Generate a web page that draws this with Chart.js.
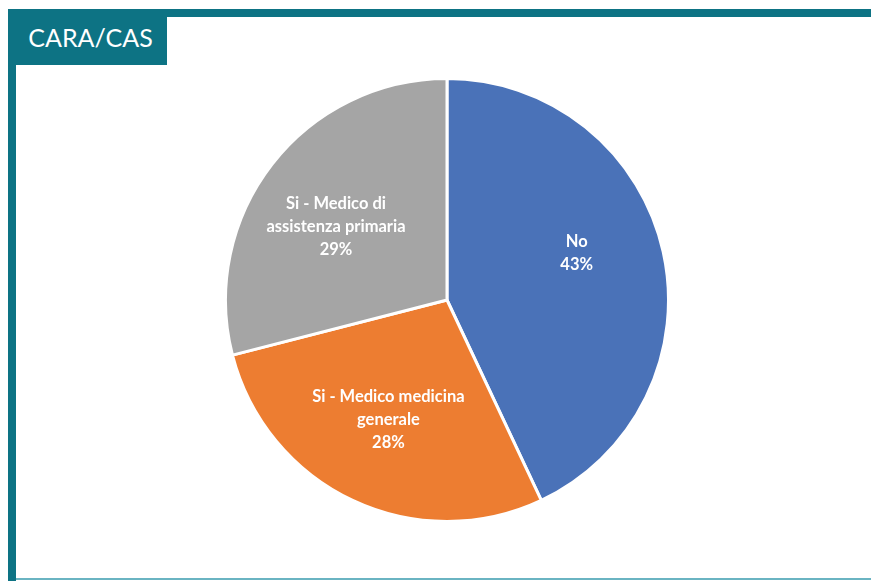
<!DOCTYPE html>
<html>
<head>
<meta charset="utf-8">
<script src="https://cdn.jsdelivr.net/npm/chart.js@4.4.0/dist/chart.umd.min.js"></script>
<style>
  html, body { margin:0; padding:0; background:#ffffff; }
  body { width:871px; height:581px; position:relative; overflow:hidden; }
  #topbar { position:absolute; left:8px; top:9px; width:863px; height:8px; background:#0d7384; }
  #leftbar { position:absolute; left:8px; top:9px; width:8px; height:572px; background:#0d7384; }
  #bottomline { position:absolute; left:16px; top:578px; width:855px; height:2px; background:#6ab4c2; }
  #titlebox { position:absolute; left:8px; top:9px; width:153px; padding-left:6px; height:56px; background:#0d7384;
    color:#ffffff; font-family:Lato, sans-serif; font-size:25px; line-height:56px; text-align:center; }
  #wrap { position:absolute; left:224px; top:77px; width:446px; height:446px; }
</style>
</head>
<body>
<div id="topbar"></div>
<div id="leftbar"></div>
<div id="bottomline"></div>
<div id="titlebox">CARA/CAS</div>
<div id="wrap"><canvas id="c"></canvas></div>
<script>
const categories = ["No", "Si - Medico medicina generale", "Si - Medico di assistenza primaria"];
const labelLines = [["No"], ["Si - Medico medicina", "generale"], ["Si - Medico di", "assistenza primaria"]];
const percentages = [43, 28, 29];
const colors = ["#4a72b8", "#ed7d31", "#a5a5a5"];

const labelPlugin = {
  id: 'sliceLabels',
  afterDatasetsDraw(chart, args, opts) {
    const ctx = chart.ctx;
    const meta = chart.getDatasetMeta(0);
    ctx.save();
    ctx.fillStyle = '#ffffff';
    ctx.font = 'bold 16.5px Lato, sans-serif';
    ctx.textAlign = 'center';
    ctx.textBaseline = 'middle';
    const lh = 23;
    meta.data.forEach((arc, i) => {
      const p = arc.getProps(['x','y','startAngle','endAngle','outerRadius']);
      const mid = (p.startAngle + p.endAngle) / 2;
      const r = p.outerRadius * 0.6;
      const off = opts.offsets[i] || [0, 0];
      const cx = p.x + Math.cos(mid) * r + off[0];
      const cy = p.y + Math.sin(mid) * r + off[1];
      const lines = labelLines[i].concat([percentages[i] + '%']);
      const y0 = cy - (lines.length - 1) * lh / 2;
      lines.forEach((t, j) => ctx.fillText(t, cx, y0 + j * lh));
    });
    ctx.restore();
  }
};

new Chart(document.getElementById('c'), {
  type: 'pie',
  data: {
    labels: categories,
    datasets: [{
      data: percentages,
      backgroundColor: colors,
      borderColor: '#ffffff',
      borderWidth: 3
    }]
  },
  options: {
    responsive: true,
    maintainAspectRatio: false,
    animation: false,
    layout: { padding: 0 },
    plugins: {
      legend: { display: false },
      tooltip: { enabled: false },
      sliceLabels: { offsets: [[0, -18], [-2, -1], [-6, 8]] }
    }
  },
  plugins: [labelPlugin]
});
</script>
</body>
</html>
